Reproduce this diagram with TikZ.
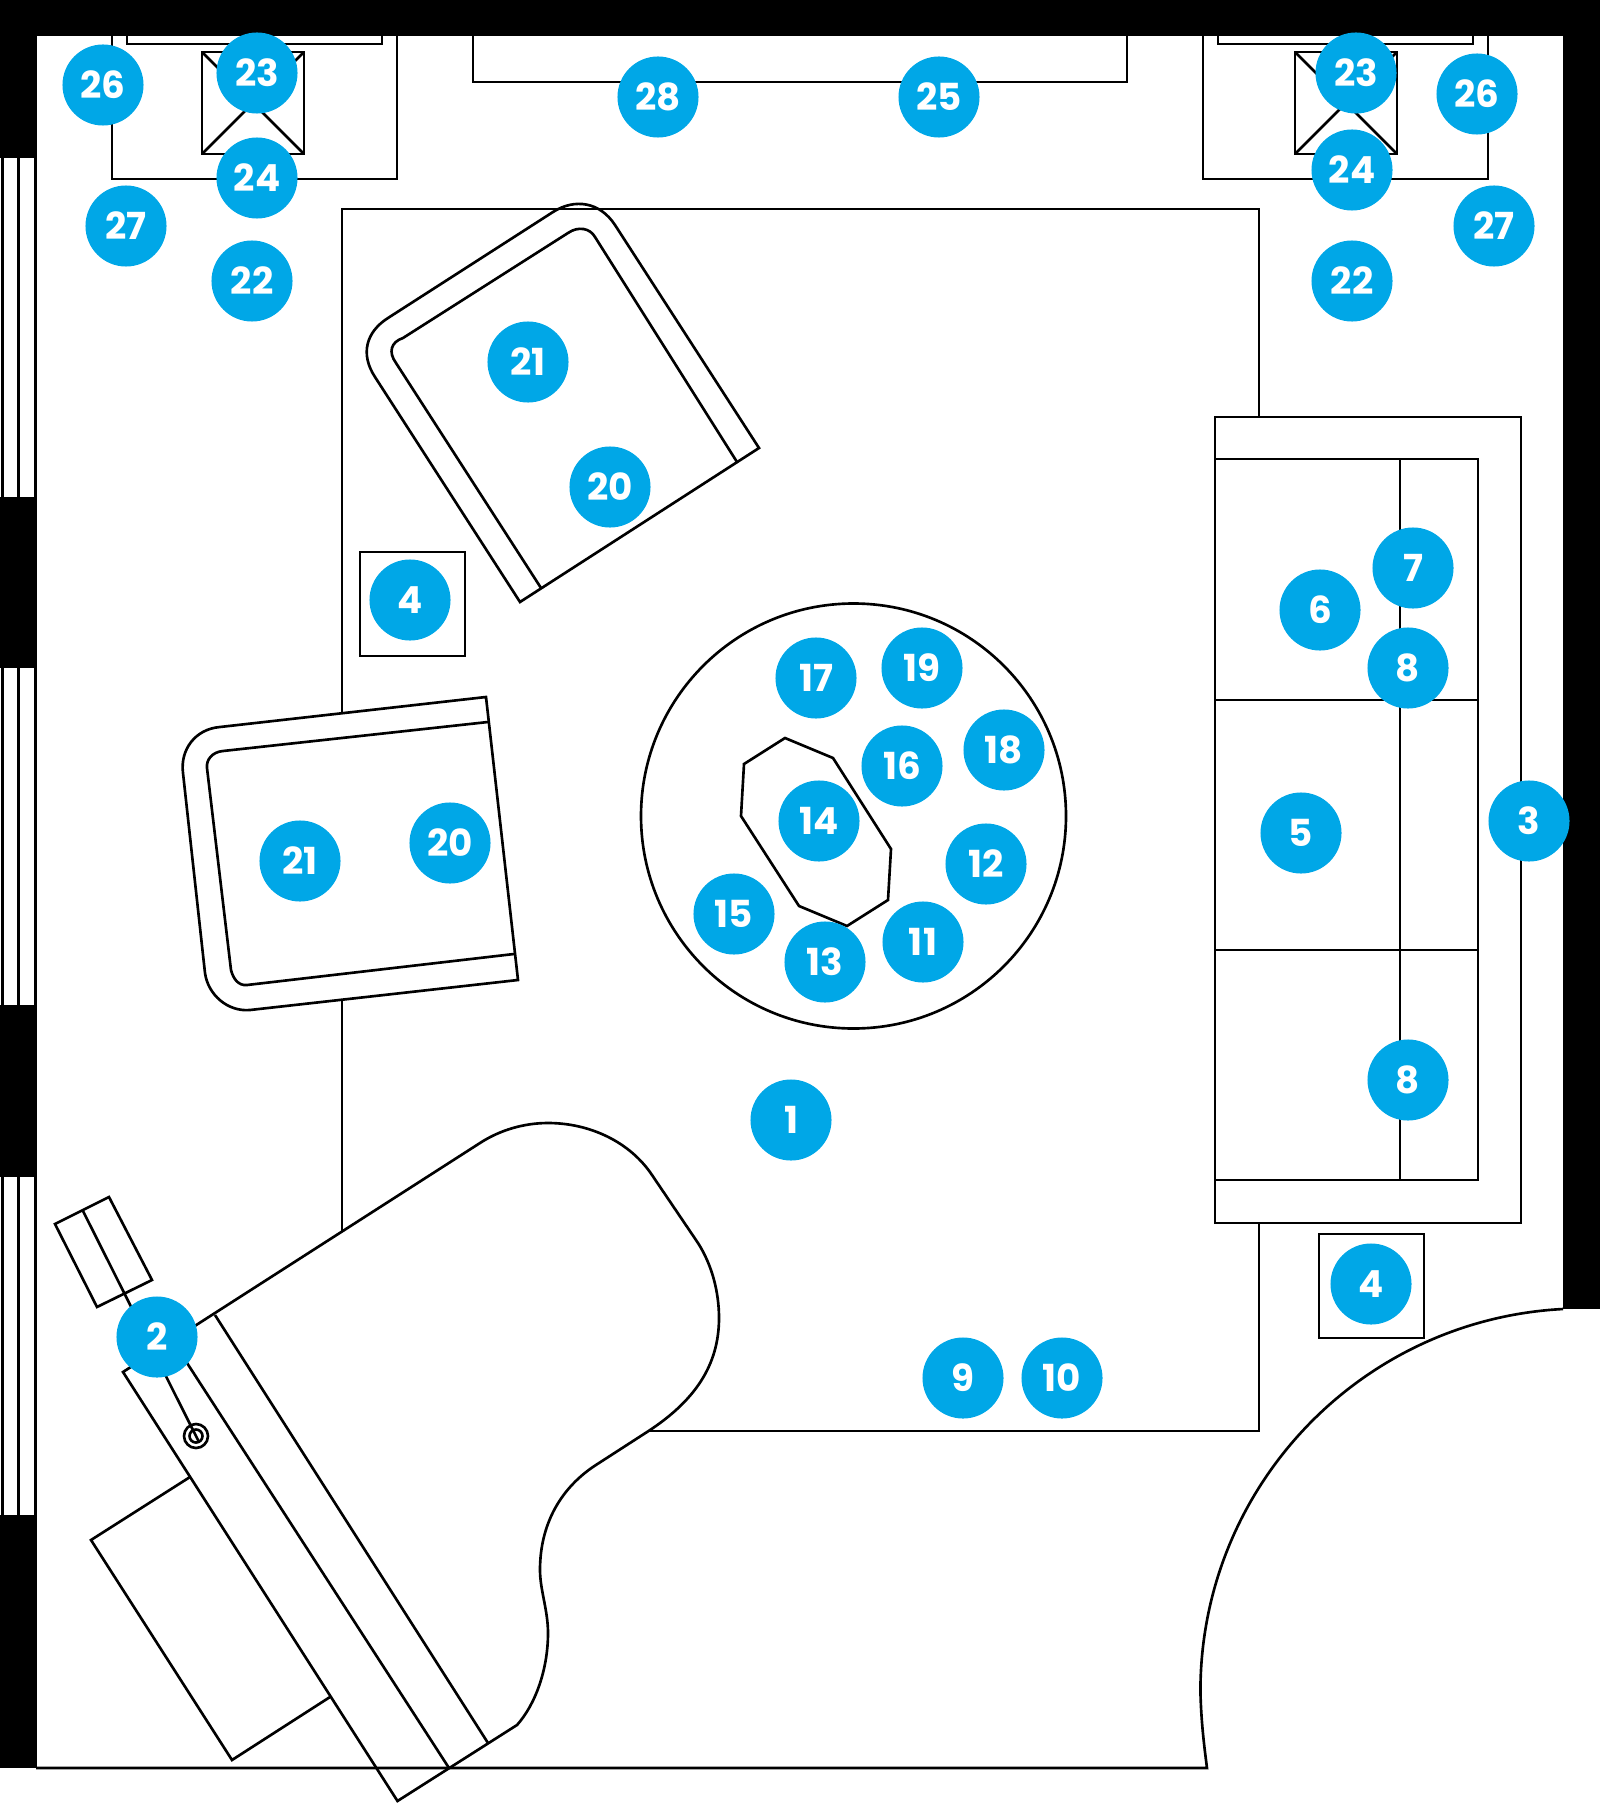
\documentclass[tikz,border=0pt]{standalone}
\usepackage{fontspec}
\setmainfont{Poppins}
\definecolor{bubblecol}{RGB}{0,167,231}
\tikzset{
    plan/.style={line width=.75pt, line join=miter},
    furn/.style={plan, fill=white},
    bubble/.style={circle, fill=bubblecol, text=white, minimum size=.81cm, inner sep=0pt,
        font=\fontsize{10.6}{12}\selectfont\bfseries},
}
\begin{document}
\begin{tikzpicture}[x=.01cm,y=-.01cm]
\useasboundingbox (0,0) rectangle (1600,1803);
\def\rugrect{(342,209) rectangle (1259,1431)}
\def\tablecircle{(853.5,816) circle (212.5)}

% walls
\fill (0,0) rectangle (1600,36.5);
\fill (1563,0) rectangle (1600,1309);
\fill (0,0) rectangle (36.5,158);
\fill (0,497) rectangle (36.5,668);
\fill (0,1005) rectangle (36.5,1177);
\fill (0,1515) rectangle (36.5,1768);

% windows
\foreach \ya/\yb in {158/497, 668/1005, 1177/1515} {
    \draw[plan] (2.5,\ya) -- (2.5,\yb) (18.5,\ya) -- (18.5,\yb) (35.5,\ya) -- (35.5,\yb);
}

% rug
\draw[plan] \rugrect;

% lamp tables
\foreach \xo/\xl in {0/0, 1091/1093} {
    \draw[plan] (112+\xo,36) -- (112+\xo,179) -- (397+\xo,179) -- (397+\xo,36);
    \draw[plan] (127+\xo,36) -- (127+\xo,44) -- (382+\xo,44) -- (382+\xo,36);
    \draw[plan] (202+\xl,52) rectangle (304+\xl,154);
    \draw[plan] (202+\xl,52) -- (304+\xl,154) (202+\xl,154) -- (304+\xl,52);
}
\draw[plan] (473,36) -- (473,82) -- (1127,82) -- (1127,36);

% sofa
\draw[furn] (1215,417) rectangle (1521,1223);
\draw[plan] (1215,459) rectangle (1478,1180);
\draw[plan] (1215,700) -- (1478,700) (1215,950) -- (1478,950) (1400,459) -- (1400,1180);

% end tables
\draw[plan] (360,552) rectangle (465,656);
\draw[plan] (1319,1234) rectangle (1424,1338);

% round table and tray
\draw[plan] \tablecircle;
\draw[plan] (785,738) -- (833,758) -- (891,849) -- (888,900) -- (847,926) -- (799,906) -- (741,816) -- (744,764) -- cycle;

% armchair by the rug's top edge
\draw[plan] (520,602) -- (375,377) .. controls (360,354) and (366,332) .. (388,318)
    -- (553,212) .. controls (575,198) and (600,202) .. (615,225) -- (759,448) -- cycle;
\draw[plan] (541,588) -- (396,363) .. controls (388,352) and (391,342) .. (403,338)
    -- (568,233) .. controls (578,226) and (590,228) .. (595,237) -- (737,462);

% armchair by the window
\draw[furn] (486,697) -- (518,980) -- (250,1010) .. controls (228,1012) and (208,995) .. (205,973)
    -- (183,773) .. controls (180,750) and (195,729) .. (220,727) -- cycle;
\draw[plan] (488,722) -- (223,751) .. controls (212,752) and (206,760) .. (207,768)
    -- (231,970) .. controls (233,978) and (238,986) .. (247,985) -- (514,954);

% piano
\draw[furn] (123,1372) -- (480,1143) .. controls (500,1130) and (524,1123) .. (548,1123)
    .. controls (590,1123) and (630,1142) .. (652,1175) -- (698,1243)
    .. controls (712,1265) and (719,1292) .. (719,1318)
    .. controls (719,1365) and (695,1401) .. (647,1432) -- (599,1463)
    .. controls (560,1487) and (540,1525) .. (540,1570)
    .. controls (540,1590) and (548,1610) .. (548,1633)
    .. controls (548,1670) and (535,1705) .. (517,1725) -- (397.5,1801) -- cycle;
\draw[plan] (172.5,1340.5) -- (449,1768);
\draw[plan] (215,1315) -- (488,1743);
\draw[plan] (190,1477) -- (91,1540) -- (232,1760) -- (330,1697);

% piano bench and knob
\draw[plan] (109,1197) -- (55,1224) -- (97,1307) -- (152,1280) -- cycle;
\draw[plan] (83,1211) -- (199,1442);
\draw[plan] (196,1436) circle (12) (196,1436) circle (6.5);

% door and bottom wall
\draw[plan] (1563,1309) arc[start angle=267,end angle=180,radius=382.6]
    .. controls (1201,1720) and (1204,1745) .. (1207,1768) -- (36,1768);

% numbers
\foreach \nm/\lbl/\xx/\yy in {
    one/1/791/1120, two/2/157/1337, three/3/1529/821, foura/4/410/600, fourb/4/1371/1284,
    five/5/1301/833, six/6/1320/610, seven/7/1413/568, eighta/8/1408/668, eightb/8/1408/1080,
    nine/9/963/1378, ten/10/1062/1378, eleven/11/923/942, twelve/12/986/864, thirteen/13/825/962,
    fourteen/14/819/821, fifteen/15/734/914, sixteen/16/902/766, seventeen/17/816/678,
    eighteen/18/1004/750, nineteen/19/922/668, twentya/20/610/487, twentyb/20/450/843,
    twoonea/21/528/362, twooneb/21/300/861, twotwoa/22/252/281, twotwob/22/1352/281,
    twothreea/23/257/73, twothreeb/23/1356/73, twofoura/24/257/178, twofourb/24/1352/170,
    twofive/25/939/97, twosixa/26/103/85, twosixb/26/1477/94, twosevena/27/126/226,
    twosevenb/27/1494/226, twoeight/28/658/97} {
    \node[bubble] (\nm) at (\xx,\yy) {\lbl};
}
\end{tikzpicture}
\end{document}
